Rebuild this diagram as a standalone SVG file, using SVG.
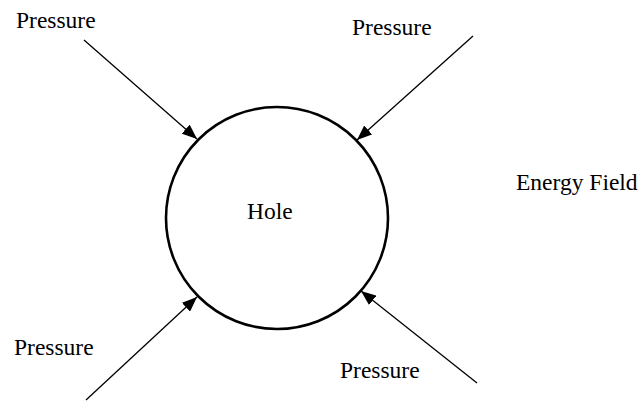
<svg xmlns="http://www.w3.org/2000/svg" width="643" height="401" viewBox="0 0 643 401">
<style>
text{font-family:"Liberation Serif","Times New Roman",serif;font-size:23.5px;fill:#000}
.conn line{stroke:#000;stroke-width:1.3;marker-end:url(#ah)}
</style>
<defs>
<marker id="ah" markerUnits="userSpaceOnUse" markerWidth="15" markerHeight="12" refX="15" refY="6" orient="auto">
<path d="M0,0 L15,6 L0,12 z" fill="#000"/>
</marker>
</defs>
<rect width="643" height="401" fill="#fff"/>
<g id="hole">
<circle cx="277" cy="218" r="111" fill="none" stroke="#000" stroke-width="2.6"/>
<text x="247" y="219">Hole</text>
</g>
<g id="pressure-tl"><text x="16" y="28">Pressure</text></g>
<g id="pressure-tr"><text x="352" y="35">Pressure</text></g>
<g id="pressure-bl"><text x="14" y="355">Pressure</text></g>
<g id="pressure-br"><text x="340" y="378">Pressure</text></g>
<g id="energy-field"><text x="516" y="190">Energy Field</text></g>
<g class="conn" id="connectors">
<line x1="84" y1="40" x2="197" y2="139"/>
<line x1="473" y1="36" x2="357" y2="140"/>
<line x1="86" y1="400" x2="197" y2="297"/>
<line x1="477" y1="383" x2="361" y2="291"/>
</g>
</svg>
